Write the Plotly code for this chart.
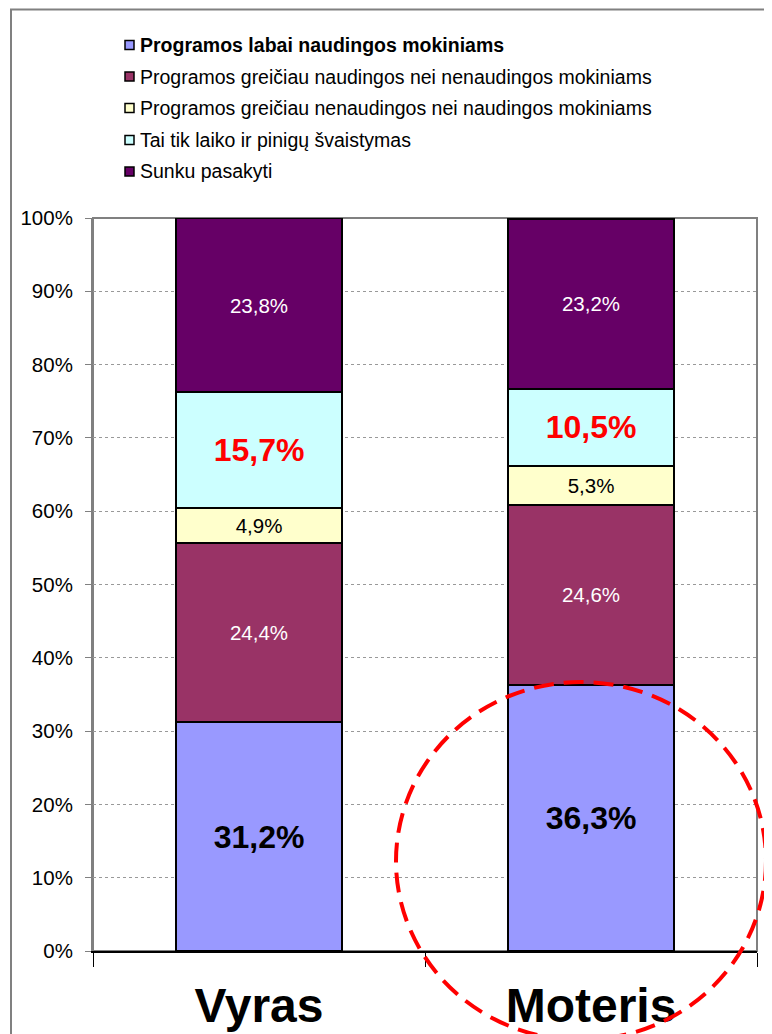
import plotly.graph_objects as go

categories = ["Vyras", "Moteris"]
series_names = [
    "Programos labai naudingos mokiniams",
    "Programos greičiau naudingos nei nenaudingos mokiniams",
    "Programos greičiau nenaudingos nei naudingos mokiniams",
    "Tai tik laiko ir pinigų švaistymas",
    "Sunku pasakyti",
]
labai_naudingos = [31.2, 36.3]
greiciau_naudingos = [24.4, 24.6]
greiciau_nenaudingos = [4.9, 5.3]
svaistymas = [15.7, 10.5]
sunku_pasakyti = [23.8, 23.2]

series_values = [labai_naudingos, greiciau_naudingos, greiciau_nenaudingos,
                 svaistymas, sunku_pasakyti]
colors = ["#9999FF", "#993366", "#FFFFCC", "#CCFFFF", "#660066"]
text_colors = ["black", "white", "black", "#FF0000", "white"]
text_sizes = [32, 20.5, 20.5, 32, 20.5]
text_weights = ["bold", "normal", "normal", "bold", "normal"]

FONT = "Arial, Liberation Sans, sans-serif"
OFF = 8  # page body margin
W, H = 772 - OFF, 1034
L, R, T, B = 93, 757, 218, 951  # plot area in page pixels


def px(x):
    return (x - L) / (R - L)


def py(y):
    return (B - y) / (B - T)


fig = go.Figure()
for name, vals, col, tc, ts, tw in zip(series_names, series_values, colors,
                                      text_colors, text_sizes, text_weights):
    fig.add_trace(go.Bar(
        x=categories, y=vals, name=name,
        marker=dict(color=col, line=dict(color="black", width=2)),
        text=[f"{v:.1f}%".replace(".", ",") for v in vals],
        textposition="inside", insidetextanchor="middle",
        constraintext="none", textangle=0,
        textfont=dict(family=FONT, size=ts, color=tc, weight=tw),
        hoverinfo="skip", showlegend=False,
    ))

shapes = []
annotations = []
# outer chart border
shapes.append(dict(type="rect", xref="paper", yref="paper",
                   x0=px(11), x1=px(800), y0=py(1080), y1=py(9.5),
                   line=dict(color="#808080", width=2), layer="below"))
# plot area border
shapes.append(dict(type="rect", xref="paper", yref="paper",
                   x0=0, x1=1, y0=0, y1=1,
                   line=dict(color="#808080", width=2), layer="below"))

# manual legend
leg_y = [45, 76.5, 108, 140, 171.5]
for i, (name, col) in enumerate(zip(series_names, colors)):
    yc = leg_y[i]
    shapes.append(dict(type="rect", xref="paper", yref="paper",
                       x0=px(125), x1=px(134), y0=py(yc + 4.5), y1=py(yc - 4.5),
                       fillcolor=col, line=dict(color="black", width=1.5)))
    annotations.append(dict(
        xref="paper", yref="paper", x=px(138), y=py(yc),
        xanchor="left", yanchor="middle", showarrow=False,
        text=f"<b>{name}</b>" if i == 0 else name,
        font=dict(family=FONT, size=19.5, color="black"),
    ))

# red dashed highlight ellipse
shapes.append(dict(type="circle", xref="paper", yref="paper",
                   x0=px(396), x1=px(766), y0=py(1040), y1=py(682),
                   line=dict(color="#FF0000", width=4, dash="20px,10px")))

fig.update_layout(
    width=W, height=H,
    margin=dict(l=L - OFF, r=W + OFF - R, t=T - OFF, b=H + OFF - B,
                autoexpand=False),
    barmode="stack", bargap=0.5,
    plot_bgcolor="white", paper_bgcolor="white",
    shapes=shapes, annotations=annotations,
    font=dict(family=FONT, color="black"),
    showlegend=False,
)
fig.update_yaxes(
    range=[0, 100], dtick=10, ticksuffix="%",
    showgrid=True, gridcolor="#999999", griddash="dot", gridwidth=1,
    ticks="outside", ticklen=6, tickcolor="#808080",
    tickfont=dict(size=20.5, family=FONT, color="black"),
    showline=True, linecolor="#808080", linewidth=2,
    zeroline=False, ticklabelstandoff=8, automargin=False,
)
fig.update_xaxes(
    type="category", range=[-0.5, 1.5],
    ticks="outside", tickson="boundaries", ticklen=14, tickcolor="black",
    tickfont=dict(size=48, family=FONT, color="black", weight="bold"),
    showline=True, linecolor="black", linewidth=1.5,
    ticklabelstandoff=12, automargin=False,
)

fig.write_html("out.html")
